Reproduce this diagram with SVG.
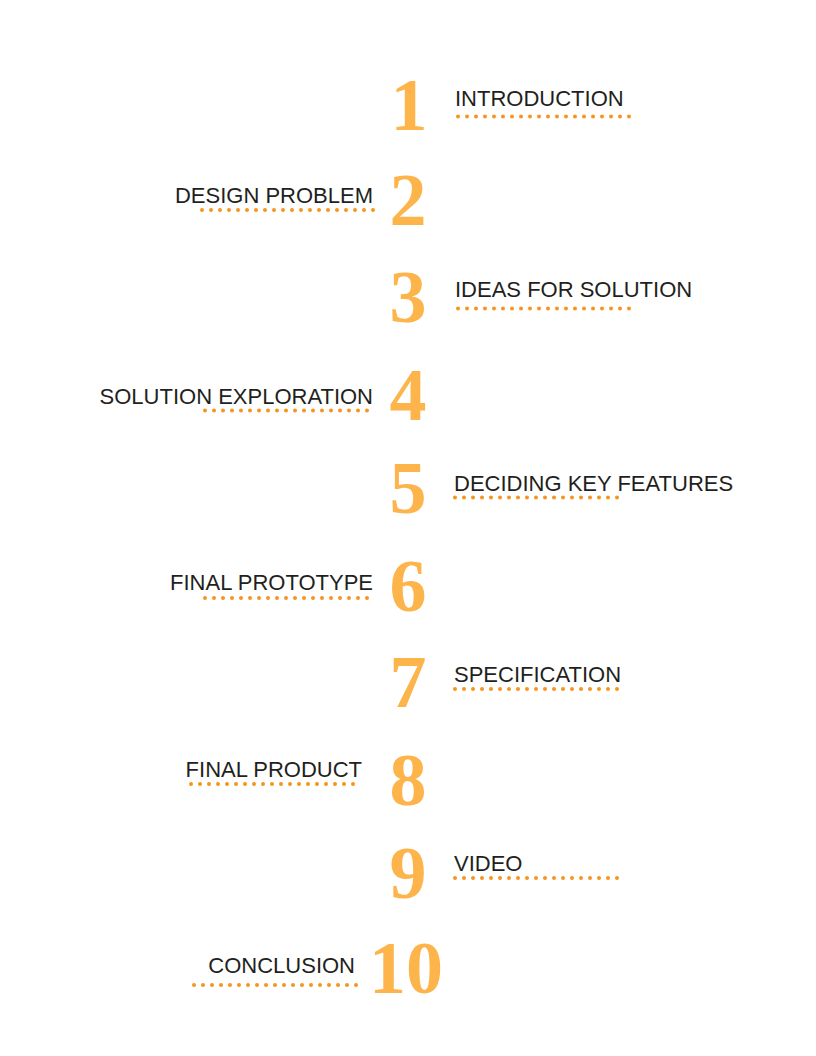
<svg xmlns="http://www.w3.org/2000/svg" width="816" height="1056" viewBox="0 0 816 1056">
<style>
.num{font-family:"Liberation Serif","Times New Roman",serif;font-size:74px;font-weight:bold;fill:#FDB44B;text-anchor:middle}
.lbl{font-family:"Liberation Sans",Arial,sans-serif;font-size:22px;fill:#231F20}
.r{text-anchor:end}
.dots{stroke:#F7941D;stroke-width:4;stroke-linecap:round;stroke-dasharray:0 9;fill:none}
</style>
<rect width="816" height="1056" fill="#FFFFFF"/>
<g id="item1">
<text class="num" x="409" y="130">1</text>
<text class="lbl" x="455" y="106">INTRODUCTION</text>
<line class="dots" x1="458" y1="116.5" x2="632" y2="116.5"/>
</g>
<g id="item2">
<text class="num" x="408" y="225">2</text>
<text class="lbl r" x="373" y="203">DESIGN PROBLEM</text>
<line class="dots" x1="202" y1="210" x2="374" y2="210"/>
</g>
<g id="item3">
<text class="num" x="408" y="322">3</text>
<text class="lbl" x="455" y="297">IDEAS FOR SOLUTION</text>
<line class="dots" x1="458" y1="308.5" x2="632" y2="308.5"/>
</g>
<g id="item4">
<text class="num" x="408" y="420">4</text>
<text class="lbl r" x="373" y="404">SOLUTION EXPLORATION</text>
<line class="dots" x1="205" y1="410.5" x2="373" y2="410.5"/>
</g>
<g id="item5">
<text class="num" x="408" y="513">5</text>
<text class="lbl" x="454" y="491">DECIDING KEY FEATURES</text>
<line class="dots" x1="455" y1="497.5" x2="623" y2="497.5"/>
</g>
<g id="item6">
<text class="num" x="408" y="611">6</text>
<text class="lbl r" x="373" y="590">FINAL PROTOTYPE</text>
<line class="dots" x1="205" y1="598" x2="373" y2="598"/>
</g>
<g id="item7">
<text class="num" x="408" y="707">7</text>
<text class="lbl" x="454" y="682">SPECIFICATION</text>
<line class="dots" x1="455" y1="689" x2="623" y2="689"/>
</g>
<g id="item8">
<text class="num" x="408" y="805">8</text>
<text class="lbl r" x="362" y="777">FINAL PRODUCT</text>
<line class="dots" x1="191" y1="784" x2="360" y2="784"/>
</g>
<g id="item9">
<text class="num" x="408" y="898">9</text>
<text class="lbl" x="454" y="871">VIDEO</text>
<line class="dots" x1="455" y1="878" x2="623" y2="878"/>
</g>
<g id="item10">
<text class="num" x="406" y="993">10</text>
<text class="lbl r" x="355" y="973">CONCLUSION</text>
<line class="dots" x1="194" y1="985" x2="363" y2="985"/>
</g>
</svg>
